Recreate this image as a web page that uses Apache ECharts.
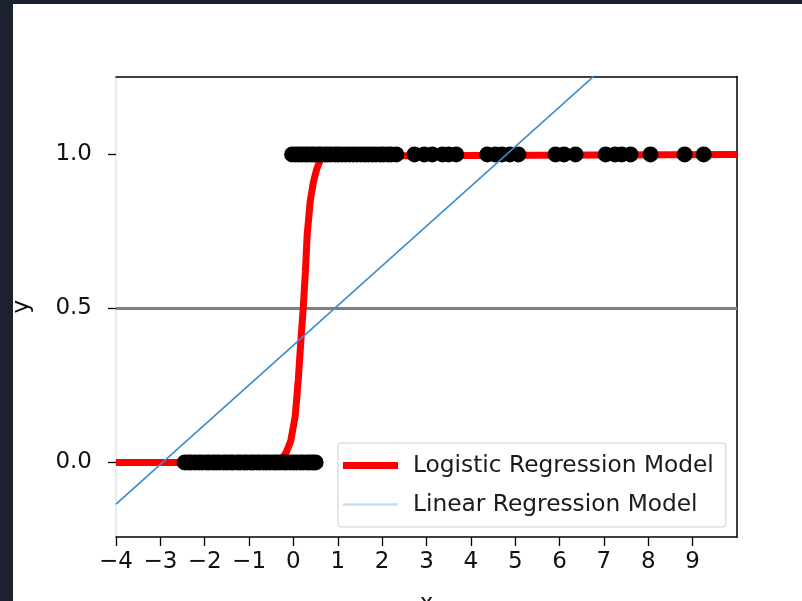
<!DOCTYPE html>
<html>
<head>
<meta charset="utf-8">
<script src="https://cdn.jsdelivr.net/npm/echarts@6/dist/echarts.min.js"></script>
<style>
html,body{margin:0;padding:0;background:#1b2130;width:802px;height:601px;overflow:hidden;}
#chart{position:absolute;left:13px;top:4px;width:789px;height:597px;}
</style>
</head>
<body>
<div id="chart"></div>
<script>
// ---- data ----
const class0X = [-2.45, -2.37, -2.31, -2.22, -2.13, -2.06, -1.96, -1.9, -1.81, -1.74, -1.67, -1.57, -1.5, -1.42, -1.36, -1.26, -1.2, -1.11, -1.05, -0.96, -0.9, -0.82, -0.76, -0.67, -0.6, -0.53, -0.44, -0.38, -0.31, -0.22, -0.16, -0.07, 0.0, 0.07, 0.16, 0.22, 0.31, 0.37, 0.44, 0.5];
const class0Y = class0X.map(() => 0);
const class1X = [-0.03, 0.05, 0.12, 0.19, 0.27, 0.33, 0.41, 0.47, 0.56, 0.62, 0.71, 0.78, 0.85, 0.94, 1.01, 1.09, 1.18, 1.26, 1.35, 1.43, 1.52, 1.61, 1.69, 1.78, 1.86, 1.96, 2.03, 2.13, 2.2, 2.32, 2.73, 2.95, 3.13, 3.36, 3.5, 3.67, 4.37, 4.55, 4.7, 4.88, 5.07, 5.91, 6.1, 6.36, 7.04, 7.25, 7.4, 7.6, 8.05, 8.82, 9.25];
const class1Y = class1X.map(() => 1);
const logisticX = [-4, -0.38, -0.28, -0.17, -0.06, 0.04, 0.11, 0.17, 0.22, 0.27, 0.31, 0.38, 0.45, 0.52, 0.6, 0.7, 10];
const logisticY = [0, 0.0, 0.01, 0.03, 0.07, 0.15, 0.27, 0.4, 0.5, 0.62, 0.74, 0.85, 0.91, 0.95, 0.98, 0.995, 1.0];
const linearX = [-4, 10];
const linearY = [-0.135, 1.67];
const thresholdX = [-4, 10];
const thresholdY = [0.5, 0.5];
const yTicks = [0, 0.5, 1.0];
const legendNames = ['Logistic Regression Model', 'Linear Regression Model'];

const pairs = (xs, ys) => xs.map((x, i) => [x, ys[i]]);
const FONT = 'DejaVu Sans';
const chart = echarts.init(document.getElementById('chart'), null, {renderer: 'canvas'});
const xRange = {min: -4, max: 10};
const yRange = {min: -0.242, max: 1.253};

chart.setOption({
  backgroundColor: '#ffffff',
  animation: false,
  textStyle: {fontFamily: FONT},
  grid: {left: 103, top: 72.5, right: 65, bottom: 64, show: false, containLabel: false, outerBoundsMode: 'none'},
  legend: {
    orient: 'vertical',
    left: 325, top: 439,
    padding: [11, 12, 11, 5],
    itemGap: 16,
    itemWidth: 55, itemHeight: 7,
    backgroundColor: 'rgba(255,255,255,0.85)',
    borderColor: '#cccccc', borderWidth: 1, borderRadius: 3,
    selectedMode: false,
    textStyle: {fontFamily: FONT, fontSize: 23.3, color: '#1a1a1a', padding: [0, 0, 0, 10]},
    data: [
      {name: legendNames[0], icon: 'rect', itemStyle: {color: '#ff0000'}},
      {name: legendNames[1], icon: 'path://M0,0H55V2.5H0Z', itemStyle: {color: '#c6dcef'}}
    ]
  },
  xAxis: [{
    type: 'value', ...xRange, interval: 1,
    name: 'x', nameLocation: 'middle', nameGap: 56,
    nameTextStyle: {fontFamily: FONT, fontSize: 23, color: '#111'},
    axisLine: {show: true, onZero: false, lineStyle: {color: '#000', width: 1.5}},
    axisTick: {show: true, length: 9, lineStyle: {color: '#000', width: 1.3}},
    axisLabel: {fontFamily: FONT, fontSize: 23, color: '#111', margin: 14, showMaxLabel: false,
      formatter: v => String(v).replace('-', '\u2212')},
    splitLine: {show: false}
  }, {
    type: 'value', ...xRange, position: 'top',
    axisLine: {show: true, onZero: false, lineStyle: {color: '#000', width: 1.5}},
    axisTick: {show: false}, axisLabel: {show: false}, splitLine: {show: false}
  }],
  yAxis: [{
    type: 'value', ...yRange,
    name: 'y', nameLocation: 'middle', nameGap: 82, nameRotate: 90,
    nameTextStyle: {fontFamily: FONT, fontSize: 23, color: '#111'},
    axisLine: {show: true, onZero: false, lineStyle: {color: '#e4e4e4', width: 1.5}},
    axisTick: {show: true, length: 8, customValues: yTicks, lineStyle: {color: '#000', width: 1.3}},
    axisLabel: {fontFamily: FONT, fontSize: 23, color: '#111', margin: 24, customValues: yTicks,
      formatter: v => Number(v).toFixed(1)},
    splitLine: {show: false}
  }, {
    type: 'value', ...yRange, position: 'right',
    axisLine: {show: true, onZero: false, lineStyle: {color: '#000', width: 1.5}},
    axisTick: {show: false}, axisLabel: {show: false}, splitLine: {show: false}
  }],
  series: [
    {
      name: 'threshold', type: 'line', data: pairs(thresholdX, thresholdY),
      symbol: 'none', lineStyle: {color: '#808080', width: 3}, z: 1, silent: true
    },
    {
      name: legendNames[0], type: 'line', data: pairs(logisticX, logisticY),
      symbol: 'none', smooth: false, lineStyle: {color: '#ff0000', width: 7}, itemStyle: {color: '#ff0000'}, z: 2
    },
    {
      name: 'class0', type: 'scatter', data: pairs(class0X, class0Y),
      symbolSize: 16, itemStyle: {color: '#000', opacity: 1}, z: 3
    },
    {
      name: 'class1', type: 'scatter', data: pairs(class1X, class1Y),
      symbolSize: 16, itemStyle: {color: '#000', opacity: 1}, z: 3
    },
    {
      name: legendNames[1], type: 'line', data: pairs(linearX, linearY),
      symbol: 'none', clip: true, lineStyle: {color: '#3a8bd0', width: 1.6}, itemStyle: {color: '#3a8bd0'}, z: 4
    }
  ]
});
</script>
</body>
</html>
